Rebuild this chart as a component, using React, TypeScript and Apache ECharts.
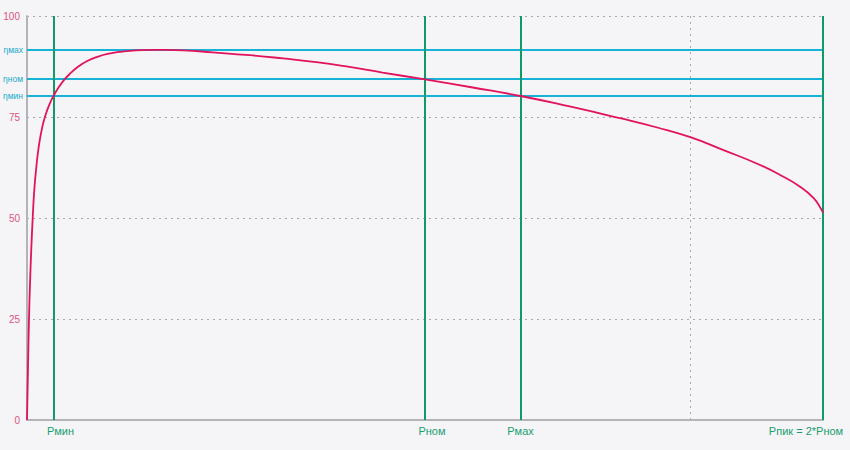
import React, { useEffect, useRef } from "react";
import * as echarts from "echarts";

// Efficiency curve: power (units, Pном = 300) vs efficiency (%)
const powerValues = [0, 0.7, 1.5, 2.3, 3.2, 4.3, 5.5, 7, 9, 11.5, 14, 17, 20, 24, 28, 33, 38, 45, 53, 62, 72, 82, 93, 105, 118, 140, 168, 193, 218, 243, 268, 300, 336, 372, 409, 447, 475, 500, 525, 550, 568, 583, 593, 599, 600];
const efficiencyValues = [0, 12, 25, 34, 42, 50, 57, 62.5, 68, 72.5, 75.5, 78.2, 80.2, 82.4, 84.2, 85.9, 87.3, 88.8, 89.9, 90.7, 91.2, 91.5, 91.6, 91.6, 91.5, 91.0, 90.3, 89.5, 88.6, 87.4, 86.0, 84.3, 82.3, 80.2, 77.6, 74.7, 72.4, 70.0, 66.8, 63.5, 60.6, 57.7, 54.9, 52.0, 51.3];

const powerMarks = [20, 300, 372, 600];
const powerMarkLabels = ["Рмин", "Рном", "Рмах", "Рпик = 2*Рном"];
const etaMarks = [91.6, 84.4, 80.2];
const etaMarkLabels = ["ηмах", "ηном", "ηмин"];

const yTicks = { min: 0, max: 100, interval: 25 };
const xTicks = { min: 0, max: 600, interval: 500 };

export default function App() {
  const ref = useRef<HTMLDivElement>(null);
  useEffect(() => {
    if (!ref.current) return;
    const chart = echarts.init(ref.current, undefined, { renderer: "svg" });
    const font = "Liberation Sans, Arial, sans-serif";
    const data = powerValues.map((p, i) => [p, efficiencyValues[i]]);
    const vPad: number[][] = [
      [0, 0, 0, 14],
      [0, 0, 0, 14],
      [0, 0, 0, 0],
      [0, 34, 0, 0],
    ];
    chart.setOption({
      animation: false,
      backgroundColor: "#f5f5f7",
      grid: { left: 27, right: 27, top: 16, bottom: 30, containLabel: false },
      xAxis: {
        type: "value",
        min: xTicks.min,
        max: xTicks.max,
        interval: xTicks.interval,
        axisLine: { show: true, onZero: false, lineStyle: { color: "#b4b4b8", width: 2 } },
        axisTick: { show: false },
        axisLabel: { show: false },
        splitLine: { show: true, lineStyle: { color: "#a8a8ae", type: [2, 4], width: 1 } },
      },
      yAxis: {
        type: "value",
        min: yTicks.min,
        max: yTicks.max,
        interval: yTicks.interval,
        axisLine: { show: true, lineStyle: { color: "#b4b4b8", width: 2 } },
        axisTick: { show: false },
        axisLabel: { color: "#e0527f", fontSize: 10, fontFamily: font, margin: 7 },
        splitLine: { show: true, lineStyle: { color: "#a8a8ae", type: [2, 4], width: 1 } },
      },
      series: [
        {
          type: "line",
          data,
          showSymbol: false,
          smooth: 0.5,
          lineStyle: { color: "#e2125c", width: 1.8 },
          z: 5,
          markLine: {
            silent: true,
            symbol: "none",
            animation: false,
            data: [
              ...etaMarks.map((v, i) => ({
                yAxis: v,
                lineStyle: { color: "#17b3d6", width: 2, type: "solid" },
                label: {
                  show: true,
                  position: "start",
                  distance: 4,
                  formatter: etaMarkLabels[i],
                  color: "#17a9cc",
                  fontSize: 8.5,
                  fontFamily: font,
                },
              })),
              ...powerMarks.map((v, i) => ({
                xAxis: v,
                lineStyle: { color: "#0f9a66", width: 2, type: "solid" },
                label: {
                  show: true,
                  position: "start",
                  distance: 5,
                  formatter: powerMarkLabels[i],
                  color: "#1a9e70",
                  fontSize: 11,
                  fontFamily: font,
                  padding: vPad[i],
                },
              })),
            ],
          },
        },
      ],
    });
    return () => chart.dispose();
  }, []);
  return (
    <div
      ref={ref}
      style={{ position: "fixed", left: 0, top: 0, width: 850, height: 450, background: "#f5f5f7" }}
    />
  );
}
